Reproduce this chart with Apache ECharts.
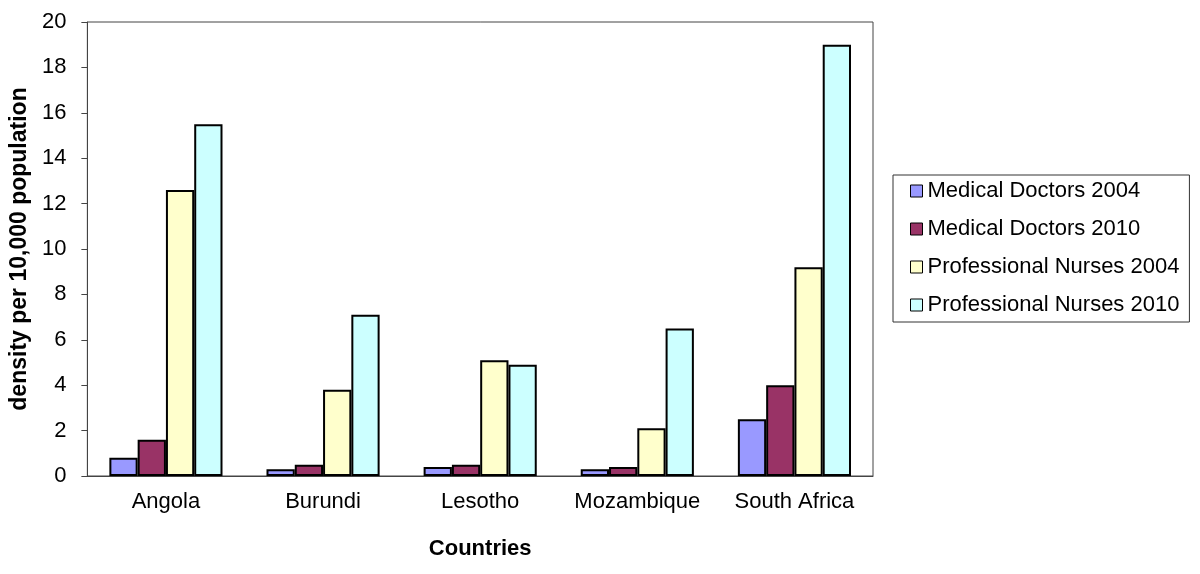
<!DOCTYPE html>
<html>
<head>
<meta charset="utf-8">
<script src="https://cdn.jsdelivr.net/npm/echarts@6/dist/echarts.min.js"></script>
<style>html,body{margin:0;padding:0;background:#fff;}#c{width:1200px;height:574px;}</style>
</head>
<body>
<div id="c"></div>
<script>
const categories = ['Angola', 'Burundi', 'Lesotho', 'Mozambique', 'South Africa'];
const seriesNames = ['Medical Doctors 2004', 'Medical Doctors 2010', 'Professional Nurses 2004', 'Professional Nurses 2010'];
const doctors2004 = [0.8, 0.3, 0.4, 0.3, 2.5];
const doctors2010 = [1.6, 0.5, 0.5, 0.4, 4.0];
const nurses2004 = [12.6, 3.8, 5.1, 2.1, 9.2];
const nurses2010 = [15.5, 7.1, 4.9, 6.5, 19.0];
const colors = ['#9999FF', '#993366', '#FFFFCC', '#CCFFFF'];
const values = [doctors2004, doctors2010, nurses2004, nurses2010];

const font = '"Liberation Sans", Arial, sans-serif';
const chart = echarts.init(document.getElementById('c'), null, {renderer: 'canvas'});
chart.setOption({
  animation: false,
  textStyle: {fontFamily: font},
  grid: {left: 84, right: 327, top: 22, bottom: 98, show: true, borderColor: '#444', borderWidth: 1, backgroundColor: '#fff'},
  legend: {
    orient: 'vertical', left: 893, top: 175,
    padding: [5, 10, 6, 17],
    borderColor: '#333', borderWidth: 1,
    itemWidth: 12, itemHeight: 12, itemGap: 16,
    icon: 'rect',
    itemStyle: {borderColor: '#000', borderWidth: 1},
    textStyle: {fontFamily: font, fontSize: 22, color: '#000'},
    data: seriesNames
  },
  xAxis: {
    type: 'category', data: categories,
    name: 'Countries', nameLocation: 'middle', nameGap: 62,
    nameTextStyle: {fontFamily: font, fontSize: 22, fontWeight: 'bold', color: '#000'},
    axisLine: {lineStyle: {color: '#444', width: 1}},
    axisTick: {length: 6, lineStyle: {color: '#444'}},
    axisLabel: {fontFamily: font, fontSize: 22, color: '#000', margin: 15, interval: 0, hideOverlap: false}
  },
  yAxis: {
    type: 'value', min: 0, max: 20, interval: 2,
    name: 'density per 10,000 population', nameLocation: 'middle', nameGap: 51,
    nameTextStyle: {fontFamily: font, fontSize: 23, fontWeight: 'bold', color: '#000'},
    axisLine: {show: true, lineStyle: {color: '#444', width: 1}},
    axisTick: {show: true, length: 6, lineStyle: {color: '#444'}},
    axisLabel: {fontFamily: font, fontSize: 22, color: '#000', margin: 21},
    splitLine: {show: false}
  },
  series: values.map((v, i) => ({
    name: seriesNames[i], type: 'bar', data: v,
    barGap: '0%', barCategoryGap: '28%',
    itemStyle: {color: colors[i], borderColor: '#000', borderWidth: 2}
  }))
});
</script>
</body>
</html>
